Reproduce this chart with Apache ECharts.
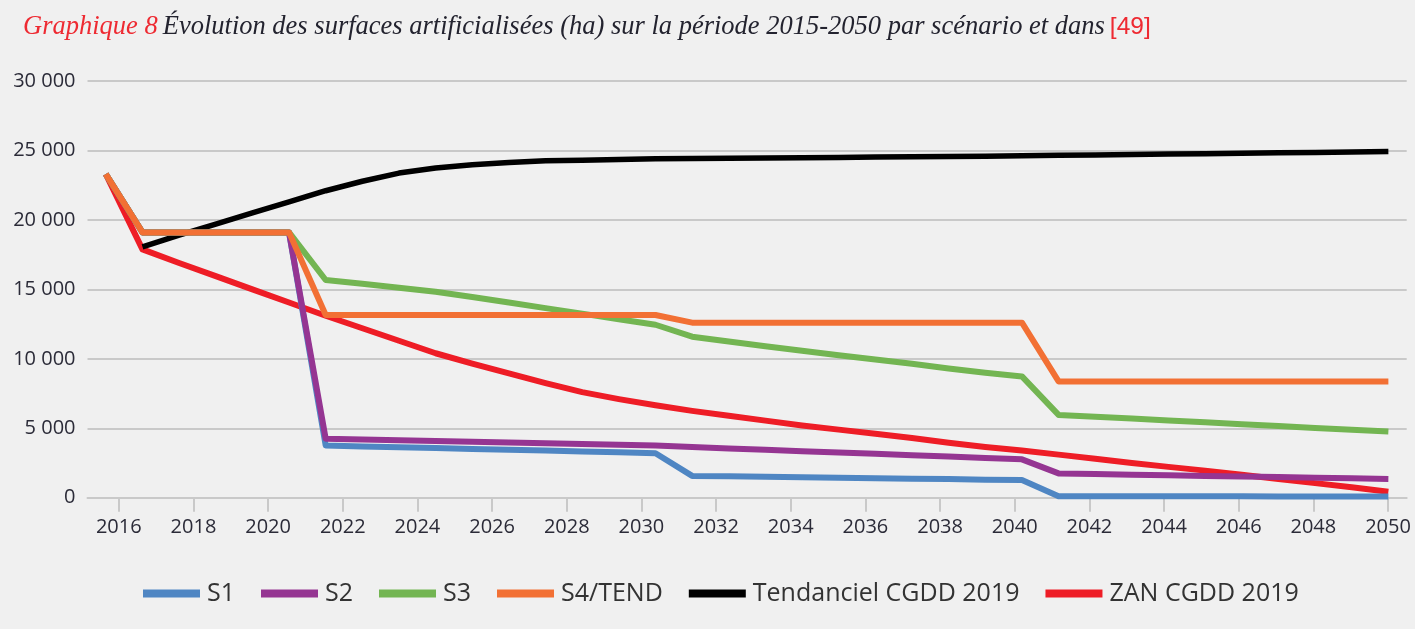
<!DOCTYPE html>
<html>
<head>
<meta charset="utf-8">
<script src="https://cdn.jsdelivr.net/npm/echarts@6/dist/echarts.min.js"></script>
<style>
html,body{margin:0;padding:0;background:#f0f0f0;}
#chart{width:1415px;height:629px;}
</style>
</head>
<body>
<div id="chart"></div>
<script>
const years = [];
for (let y = 2015; y <= 2050; y++) years.push(String(y));

const tickYears = [2016,2018,2020,2022,2024,2026,2028,2030,2032,2034,2036,2038,2040,2042,2044,2046,2048,2050];

const s1 = [23300, 19100,19100,19100,19100,19100,
  3750,3690,3630,3570,3510,3450,3390,3330,3270,3200,
  1570,1540,1500,1470,1440,1400,1370,1340,1300,1270,
  110,110,105,100,100,100,95,95,90,90];
const s2 = [23300, 19100,19100,19100,19100,19100,
  4250,4190,4140,4080,4030,3970,3920,3860,3810,3750,
  3650,3550,3450,3350,3250,3160,3060,2960,2860,2760,
  1750,1705,1660,1615,1570,1530,1485,1440,1395,1350];
const s3 = [23300, 19100,19100,19100,19100,19100,
  15670,15400,15120,14830,14450,14050,13650,13250,12850,12450,
  11590,11250,10900,10580,10250,9950,9650,9300,9000,8730,
  5960,5830,5700,5560,5430,5290,5160,5020,4890,4760];
const s4 = [23300, 19100,19100,19100,19100,19100,
  13150,13150,13150,13150,13150,13150,13150,13150,13150,13150,
  12600,12600,12600,12600,12600,12600,12600,12600,12600,12600,
  8370,8370,8370,8370,8370,8370,8370,8370,8370,8370];
const tendanciel = [null, 18050,18900,19700,20500,21300,
  22100,22780,23370,23730,23970,24130,24250,24300,24350,24400,
  24420,24440,24460,24480,24500,24520,24540,24570,24590,24620,
  24650,24680,24710,24740,24770,24800,24830,24860,24890,24930];
const zan = [23300, 17880,16900,15950,15000,14050,
  13100,12200,11300,10400,9650,8950,8250,7600,7100,6650,
  6250,5900,5550,5200,4900,4600,4300,3950,3650,3400,
  3100,2800,2500,2220,1950,1650,1350,1050,750,430];

const names = ['S1','S2','S3','S4/TEND','Tendanciel CGDD 2019','ZAN CGDD 2019'];
const colors = ['#4F86C3','#953592','#73B552','#F27034','#000000','#EE1D26'];
const seriesData = [s1, s2, s3, s4, tendanciel, zan];
const zOrder = [4, 5, 6, 7, 3, 2];

const chart = echarts.init(document.getElementById('chart'));
const gridColor = '#c9c9c9';
const fontFam = '"Open Sans", sans-serif';
const labelColor = '#2b2b38';

chart.setOption({
  backgroundColor: '#f0f0f0',
  animation: false,
  title: {
    left: 18, top: 9,
    text: '{a|Graphique 8} {b|Évolution des surfaces artificialisées (ha) sur la période 2015-2050 par scénario et dans} {c|[49]}',
    textStyle: {
      fontWeight: 'normal',
      rich: {
        a: {fontFamily: '"Liberation Serif", serif', fontStyle: 'italic', fontWeight: 'normal', fontSize: 26.5, color: '#EE2A32'},
        b: {fontFamily: '"Liberation Serif", serif', fontStyle: 'italic', fontWeight: 'normal', fontSize: 26.5, color: '#23232f'},
        c: {fontFamily: '"Liberation Sans", sans-serif', fontWeight: 'normal', fontSize: 24.5, color: '#EE2A32'}
      }
    }
  },
  legend: {
    left: 138, top: 576,
    icon: 'rect',
    itemWidth: 57, itemHeight: 8,
    itemGap: 26,
    textStyle: {fontFamily: fontFam, fontSize: 25, color: '#333', padding: [0,0,0,2]},
    data: names
  },
  grid: {left: 87.5, right: 8.3, top: 81, bottom: 131.3, containLabel: false},
  xAxis: [
    {type: 'category', data: years, boundaryGap: true, show: false},
    {
      type: 'value', position: 'bottom',
      min: 2015.162, max: 2050.5,
      axisLine: {show: true, lineStyle: {color: gridColor, width: 2}},
      axisTick: {show: true, customValues: tickYears, length: 14, lineStyle: {color: gridColor, width: 2}},
      axisLabel: {customValues: tickYears, margin: 20, fontFamily: fontFam, fontSize: 20, color: labelColor,
        formatter: v => String(v)},
      splitLine: {show: false}
    }
  ],
  yAxis: {
    type: 'value', min: 0, max: 30000, interval: 5000,
    axisLine: {show: false}, axisTick: {show: false},
    axisLabel: {margin: 12, fontFamily: fontFam, fontSize: 20, color: labelColor,
      formatter: v => String(v).replace(/\B(?=(\d{3})+(?!\d))/g, ' ')},
    splitLine: {lineStyle: {color: gridColor, width: 2}}
  },
  series: names.map((n, i) => ({
    name: n, type: 'line', xAxisIndex: 0,
    data: seriesData[i],
    symbol: 'none', z: zOrder[i],
    itemStyle: {color: colors[i]},
    lineStyle: {color: colors[i], width: i === 4 ? 5.5 : 6, join: 'round'}
  }))
});
</script>
</body>
</html>
